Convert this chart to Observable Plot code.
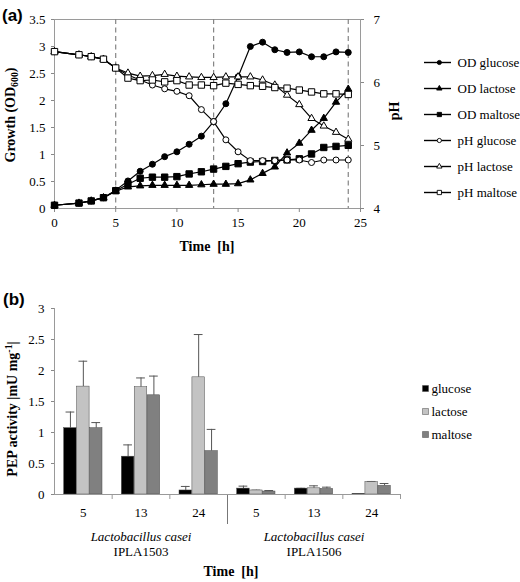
<!DOCTYPE html>
<html><head><meta charset="utf-8">
<script src="https://cdn.jsdelivr.net/npm/d3@7"></script>
<script src="https://cdn.jsdelivr.net/npm/@observablehq/plot@0.6"></script>
<style>
body{margin:0;background:#fff;}
#wrap{position:relative;width:520px;height:582px;font-family:"Liberation Serif","Times New Roman",serif;color:#000;overflow:hidden;}
#wrap svg{position:absolute;}
.lbl{position:absolute;font-weight:bold;font-size:14px;line-height:1;white-space:nowrap;transform:translate(-50%,-50%);}
.rot{transform:translate(-50%,-50%) rotate(-90deg);}
.panel{position:absolute;font-family:"Liberation Sans",sans-serif;font-weight:bold;font-size:17px;line-height:1;transform:translateY(-50%);}
sub{font-size:70%;vertical-align:-0.25em;}
sup{font-size:70%;vertical-align:0.45em;}
</style></head>
<body><div id="wrap"></div>
<script>
// ---------- Panel (a) data ----------
const hours = [0,2,3,4,5,6,7,8,9,10,11,12,13,14,15,16,17,18,19,20,21,22,23,24];
const odGlucose = [0.06,0.10,0.14,0.20,0.34,0.51,0.69,0.82,0.96,1.05,1.19,1.34,1.61,1.94,2.44,3.00,3.08,2.94,2.89,2.90,2.81,2.81,2.90,2.89];
const odLactose = [0.06,0.10,0.14,0.20,0.32,0.40,0.42,0.43,0.43,0.43,0.43,0.44,0.45,0.45,0.46,0.53,0.65,0.77,1.03,1.21,1.45,1.67,1.97,2.21];
const odMaltose = [0.06,0.10,0.14,0.20,0.33,0.45,0.56,0.58,0.58,0.59,0.64,0.68,0.73,0.78,0.83,0.86,0.87,0.89,0.90,0.92,1.01,1.13,1.15,1.17];
const phGlucose = [6.49,6.44,6.41,6.37,6.23,6.12,6.04,5.96,5.90,5.86,5.79,5.57,5.38,5.09,4.90,4.76,4.76,4.76,4.77,4.77,4.73,4.77,4.77,4.77];
const phLactose = [6.49,6.44,6.41,6.37,6.23,6.15,6.10,6.11,6.13,6.10,6.09,6.08,6.08,6.09,6.09,6.09,6.04,5.96,5.80,5.65,5.43,5.31,5.21,5.10];
const phMaltose = [6.49,6.44,6.41,6.37,6.23,6.07,6.03,6.04,6.01,6.03,5.96,5.96,5.95,5.99,5.97,5.95,5.94,5.92,5.91,5.88,5.85,5.82,5.82,5.81];
const sampleTimes = [5,13,24];
const timeTicks = [0,5,10,15,20,25];
const odTicks = [0,0.5,1,1.5,2,2.5,3,3.5];
const phTicks = [4,5,6,7];
const sugars = ["glucose","lactose","maltose"];

// ---------- Panel (b) data ----------
const strains = ["IPLA1503","IPLA1506"];
const pepHours = ["5","13","24"];
const pepGlucose    = [1.07,0.61,0.065,0.095,0.095,0.01];
const pepGlucoseErr = [0.26,0.19,0.065,0.04,0.005,0];
const pepLactose    = [1.74,1.73,1.89,0.065,0.10,0.20];
const pepLactoseErr = [0.41,0.15,0.69,0.005,0.04,0.01];
const pepMaltose    = [1.07,1.60,0.70,0.048,0.09,0.14];
const pepMaltoseErr = [0.09,0.31,0.35,0.016,0.028,0.037];
const pepTicks = [0,0.5,1,1.5,2,2.5,3];
const barColors = ["#000000","#c3c3c3","#808080"];

const wrap = document.getElementById("wrap");
const FONT = '"Liberation Serif", "Times New Roman", serif';
const font = {fontFamily:FONT, fontSize:"13px", background:"transparent", color:"#000", overflow:"visible"};

// ---------- Panel (a) ----------
const PH_MIN = phTicks[0], PH_MAX = phTicks[phTicks.length-1];
const OD_MAX = odTicks[odTicks.length-1];
const K = OD_MAX / (PH_MAX - PH_MIN);
const toY = p => (p - PH_MIN) * K;
const series = [
  {name:"OD glucose", kind:"OD", sugar:"glucose", values:odGlucose},
  {name:"OD lactose", kind:"OD", sugar:"lactose", values:odLactose},
  {name:"OD maltose", kind:"OD", sugar:"maltose", values:odMaltose},
  {name:"pH glucose", kind:"pH", sugar:"glucose", values:phGlucose},
  {name:"pH lactose", kind:"pH", sugar:"lactose", values:phLactose},
  {name:"pH maltose", kind:"pH", sugar:"maltose", values:phMaltose}
];
const rowsA = series.flatMap(s => hours.map((t,i) => ({series:s.name, kind:s.kind, sugar:s.sugar, t, y: s.kind==="OD" ? s.values[i] : toY(s.values[i])})));
const symbolOf = {glucose:"circle", lactose:"triangle", maltose:"square"};
const rOf = {glucose:3, lactose:2.7, maltose:3.6};
const legendROf = {glucose:2.1, lactose:2, maltose:2.4};
const fillOf = {OD:"#000", pH:"#fff"};

const plotA = Plot.plot({
  width:520, height:270, marginLeft:54, marginRight:160, marginTop:19, marginBottom:62,
  style:font,
  x:{domain:[timeTicks[0], timeTicks[timeTicks.length-1]]},
  y:{domain:[0, OD_MAX]},
  marks:[
    Plot.frame({stroke:"#9a9a9a"}),
    Plot.ruleX(sampleTimes, {stroke:"#858585", strokeDasharray:"5,3.5", strokeWidth:1.2}),
    Plot.axisY({ticks:odTicks, tickSize:3, tickPadding:6, tickFormat:d => String(d), stroke:"#888", label:null}),
    Plot.axisY({anchor:"right", ticks:phTicks.map(toY), tickSize:3, tickPadding:10, tickFormat:v => String(Math.round(v / K + PH_MIN)), stroke:"#888", label:null}),
    Plot.axisX({ticks:timeTicks, tickSize:4, tickPadding:5, tickFormat:d => String(d), stroke:"#888", label:null}),
    Plot.line(rowsA, {x:"t", y:"y", z:"series", stroke:"#000", strokeWidth:1.2}),
    ...series.map(s => Plot.dot(rowsA.filter(d => d.series === s.name), {
      x:"t", y:"y", symbol:symbolOf[s.sugar], r:rOf[s.sugar], fill:fillOf[s.kind], stroke:"#000", strokeWidth:1
    }))
  ]
});
plotA.style.left = "0px"; plotA.style.top = "0px";
wrap.appendChild(plotA);

// legend (a)
const legA = Plot.plot({
  width:100, height:170, marginLeft:4, marginRight:69, marginTop:20, marginBottom:17,
  style:font,
  x:{domain:[0,1], axis:null},
  y:{type:"point", domain:series.map(s => s.name), padding:0, axis:null},
  marks:[
    Plot.ruleY(series, {y:"name", x1:0, x2:1, stroke:"#000", strokeWidth:1.4}),
    ...series.map(s => Plot.dot([s], {x:0.55, y:"name", symbol:symbolOf[s.sugar], r:legendROf[s.sugar], fill:fillOf[s.kind], stroke:"#000", strokeWidth:0.9})),
    Plot.text(series, {x:1, y:"name", text:"name", textAnchor:"start", dx:6, fill:"#000"})
  ]
});
legA.style.left = "420px"; legA.style.top = "40px";
wrap.appendChild(legA);

// ---------- Panel (b) ----------
const cats = strains.flatMap(s => pepHours.map(h => ({strain:s, hour:h})));
const valuesBy = {glucose:pepGlucose, lactose:pepLactose, maltose:pepMaltose};
const errBy = {glucose:pepGlucoseErr, lactose:pepLactoseErr, maltose:pepMaltoseErr};
const sub = d3.scaleBand().domain(sugars).range([0,1]).paddingInner(0.03).paddingOuter(0.75);
const rowsB = cats.flatMap((c,i) => sugars.map(s => ({
  i, strain:c.strain, hour:c.hour, sugar:s, value:valuesBy[s][i], err:errBy[s][i],
  x1:i + sub(s), x2:i + sub(s) + sub.bandwidth(), xc:i + sub(s) + sub.bandwidth()/2,
  cap1:i + sub(s) + sub.bandwidth()*0.15, cap2:i + sub(s) + sub.bandwidth()*0.85
})));
const errRows = rowsB.filter(d => d.err > 0);
const groupSize = pepHours.length;
const boundaries = d3.range(1, cats.length + 1).filter(b => b % groupSize !== 0 || b === cats.length);
const dividers = d3.range(groupSize, cats.length, groupSize);

const plotB = Plot.plot({
  width:520, height:302, marginLeft:54, marginRight:120, marginTop:28, marginBottom:88,
  style:font,
  x:{domain:[0, cats.length]},
  y:{domain:[0, pepTicks[pepTicks.length-1]]},
  color:{domain:sugars, range:barColors},
  marks:[
    Plot.axisY({ticks:pepTicks, tickSize:3, tickPadding:7, tickFormat:d => String(d), stroke:"#888", label:null}),
    Plot.ruleX([0], {stroke:"#999"}),
    Plot.axisX({ticks:boundaries, tickSize:5, tickFormat:() => "", stroke:"#999", label:null}),
    Plot.axisX({ticks:dividers, tickSize:30, tickFormat:() => "", stroke:"#777", label:null}),
    Plot.axisX({ticks:cats.map((c,i) => i + 0.5), tickSize:0, tickPadding:13, tickFormat:v => cats[Math.floor(v)].hour, label:null}),
    Plot.ruleX(errRows, {x:"xc", y1:"value", y2:d => d.value + d.err, stroke:"#555", strokeWidth:1}),
    Plot.ruleY(errRows, {y:d => d.value + d.err, x1:"cap1", x2:"cap2", stroke:"#555", strokeWidth:1}),
    Plot.rectY(rowsB, {x1:"x1", x2:"x2", y:"value", fill:"sugar", stroke:"#4a4a4a", strokeWidth:0.5}),
    Plot.ruleY([0], {stroke:"#999"}),
    Plot.text(strains, {x:(d,k) => k*groupSize + groupSize/2, frameAnchor:"bottom", dy:46, text:() => "Lactobacillus casei", fontStyle:"italic", fill:"#000"}),
    Plot.text(strains, {x:(d,k) => k*groupSize + groupSize/2, frameAnchor:"bottom", dy:61, text:d => d, fill:"#000"})
  ]
});
plotB.style.left = "0px"; plotB.style.top = "280px";
wrap.appendChild(plotB);

// legend (b)
const legB = Plot.plot({
  width:105, height:80, marginLeft:11, marginRight:60, marginTop:17, marginBottom:16,
  style:font,
  x:{domain:[0,1], axis:null},
  y:{type:"point", domain:sugars, padding:0, axis:null},
  color:{domain:sugars, range:barColors},
  marks:[
    Plot.dot(sugars, {x:0, y:d => d, symbol:"square", r:3.4, fill:d => d, stroke:"#4a4a4a", strokeWidth:0.5}),
    Plot.text(sugars, {x:0, y:d => d, text:d => d, textAnchor:"start", dx:6, fill:"#000"})
  ]
});
legB.style.left = "414px"; legB.style.top = "370px";
wrap.appendChild(legB);

// ---------- titles ----------
function label(html, x, y, cls) {
  const d = document.createElement("div");
  d.className = cls; d.innerHTML = html;
  d.style.left = x + "px"; d.style.top = y + "px";
  wrap.appendChild(d);
}
label("(a)", 2, 15, "panel");
label("(b)", 3, 299, "panel");
label("Growth (OD<sub>600</sub>)", 12, 115, "lbl rot");
label("pH", 395, 111, "lbl rot");
label("Time&nbsp; [h]", 207, 247, "lbl");
label("PEP activity |mU mg<sup>-1</sup>|", 12, 409, "lbl rot");
label("Time&nbsp; [h]", 231, 572, "lbl");
</script>
</body></html>
